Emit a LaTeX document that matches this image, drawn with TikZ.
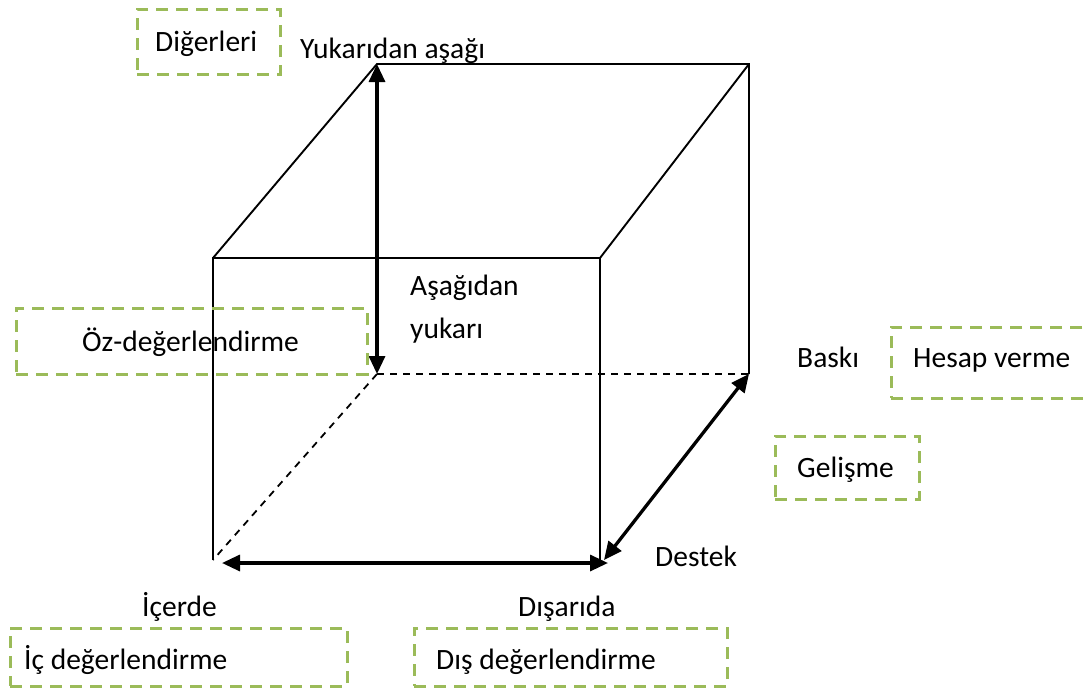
\documentclass[tikz,border=0pt]{standalone}
\usepackage{fontspec}
\setmainfont{Carlito}
\usetikzlibrary{arrows.meta}
\definecolor{boxgreen}{HTML}{9BBB59}
\begin{document}
\begin{tikzpicture}[x=1pt,y=-1pt,
  edge/.style={line width=1.9pt},
  hidden/.style={line width=1.8pt, dash pattern=on 7pt off 6pt},
  axis/.style={line width=3.3pt,
    {Triangle[length=18pt,width=16pt]}-{Triangle[length=18pt,width=16pt]}},
  gbox/.style={draw=boxgreen, line width=3pt, dash pattern=on 12pt off 8pt,
    rectangle, inner sep=0pt},
  lbl/.style={font=\fontsize{29.5}{34}\selectfont, inner sep=0pt, anchor=base west}
]
\useasboundingbox (0,0) rectangle (1086,688);
\clip (0,0) rectangle (1086,688);
\fill[white] (0,0) rectangle (1086,688);

% cube corners: front face F*, back face B*
\coordinate (FTL) at (213,258);
\coordinate (FTR) at (600,258);
\coordinate (FBR) at (600,562);
\coordinate (FBL) at (213,560);
\coordinate (BTL) at (377,64);
\coordinate (BTR) at (749,64);
\coordinate (BBR) at (749,374);
\coordinate (BBL) at (377,374);
% ends of the two lower arrows
\coordinate (inEnd) at (222,563);
\coordinate (outEnd) at (608,563);
\coordinate (supEnd) at (604,560);

% visible edges
\draw[edge] (FBL) -- (FTL) -- (FTR) -- (FBR);
\draw[edge] (FTL) -- (BTL) -- (BTR) -- (BBR);
\draw[edge] (FTR) -- (BTR);
% hidden edges
\draw[hidden] (BBL) -- (BBR);
\draw[hidden] (BBL) -- (FBL);

% axes
\draw[axis] (BTL) -- (BBL);
\draw[axis] (inEnd) -- (outEnd);
\draw[axis] (supEnd) -- (BBR);

% dashed boxes
\node[gbox, minimum width=143pt, minimum height=65pt] (others) at (208.5,41.5) {};
\node[gbox, minimum width=351pt, minimum height=66pt] (self) at (191.5,341) {};
\node[gbox, minimum width=210pt, minimum height=71pt] (account) at (996,362.5) {};
\node[gbox, minimum width=144pt, minimum height=63pt] (growth) at (847,467.5) {};
\node[gbox, minimum width=337pt, minimum height=58pt] (internal) at (178.5,657) {};
\node[gbox, minimum width=313pt, minimum height=58pt] (external) at (570.5,657) {};

% texts
\node[lbl] (tOthers) at (155,51) {Diğerleri};
\node[lbl] (tTopDown) at (300,58) {Yukarıdan aşağı};
\node[lbl] (tBottomUp1) at (410,295) {Aşağıdan};
\node[lbl] (tBottomUp2) at (410,338) {yukarı};
\node[lbl] (tSelf) at (82,351) {Öz-değerlendirme};
\node[lbl] (tPress) at (797,367) {Baskı};
\node[lbl] (tAccount) at (913,367) {Hesap verme};
\node[lbl] (tGrowth) at (797,477) {Gelişme};
\node[lbl] (tSupport) at (655,566) {Destek};
\node[lbl] (tInside) at (142,616) {İçerde};
\node[lbl] (tOutside) at (518,616) {Dışarıda};
\node[lbl] (tInternal) at (24,669) {İç değerlendirme};
\node[lbl] (tExternal) at (436,669) {Dış değerlendirme};
\end{tikzpicture}
\end{document}
